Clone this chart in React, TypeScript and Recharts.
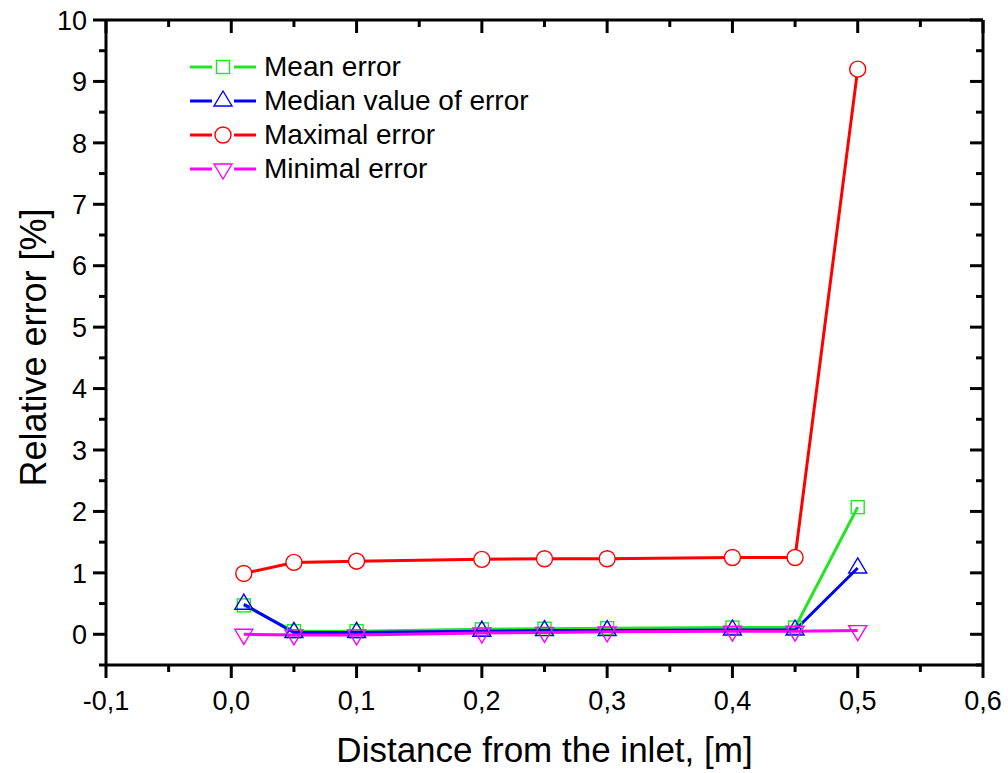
import React from 'react';
import { LineChart, Line, XAxis, YAxis, Legend, Label } from 'recharts';

const distance = [0.01, 0.05, 0.1, 0.2, 0.25, 0.3, 0.4, 0.45, 0.5];
const meanError = [0.47, 0.05, 0.05, 0.08, 0.09, 0.1, 0.11, 0.11, 2.07];
const medianError = [0.49, 0.03, 0.03, 0.05, 0.06, 0.06, 0.07, 0.07, 1.08];
const maxError = [0.99, 1.17, 1.19, 1.22, 1.23, 1.23, 1.25, 1.25, 9.2];
const minError = [0.0, -0.01, -0.01, 0.02, 0.03, 0.04, 0.05, 0.05, 0.06];

const xTicks = [-0.1, -0.05, 0, 0.05, 0.1, 0.15, 0.2, 0.25, 0.3, 0.35, 0.4, 0.45, 0.5, 0.55, 0.6];
const yTicks = [-0.5, 0, 0.5, 1, 1.5, 2, 2.5, 3, 3.5, 4, 4.5, 5, 5.5, 6, 6.5, 7, 7.5, 8, 8.5, 9, 9.5, 10];

const data = distance.map((x, i) => ({
    x,
    mean: meanError[i],
    median: medianError[i],
    max: maxError[i],
    min: minError[i],
}));

type Shape = 'square' | 'up' | 'circle' | 'down';

const series: { key: string; name: string; color: string; shape: Shape; fill: string }[] = [
    { key: 'mean', name: 'Mean error', color: '#22e622', shape: 'square', fill: 'none' },
    { key: 'median', name: 'Median value of error', color: '#0000ff', shape: 'up', fill: 'none' },
    { key: 'max', name: 'Maximal error', color: '#ff0000', shape: 'circle', fill: '#ffffff' },
    { key: 'min', name: 'Minimal error', color: '#ff00ff', shape: 'down', fill: 'none' },
];

const FONT = '"Liberation Sans", Arial, sans-serif';
const AXIS = '#000';
const MAJOR = 13;
const MINOR = 7;

const isMajorX = (v: number) => Math.abs(Math.round(v * 20)) % 2 === 0;
const isMajorY = (v: number) => Number.isInteger(v);
const fmtX = (v: number) => v.toFixed(1).replace('.', ',');

const Marker = ({ cx, cy, shape, color, fill }: { cx: number; cy: number; shape: Shape; color: string; fill: string }) => {
    const sw = 1.4;
    if (shape === 'square') {
        return <rect x={cx - 6.5} y={cy - 6.5} width={13} height={13} fill={fill} stroke={color} strokeWidth={sw} />;
    }
    if (shape === 'circle') {
        return <circle cx={cx} cy={cy} r={8} fill={fill} stroke={color} strokeWidth={sw} />;
    }
    if (shape === 'up') {
        return <path d={`M${cx},${cy - 10}L${cx + 9},${cy + 5}L${cx - 9},${cy + 5}Z`} fill={fill} stroke={color} strokeWidth={sw} />;
    }
    return <path d={`M${cx},${cy + 10}L${cx + 9},${cy - 5}L${cx - 9},${cy - 5}Z`} fill={fill} stroke={color} strokeWidth={sw} />;
};

const BottomTick = (props: any) => {
    const { x, y, payload } = props;
    const major = isMajorX(payload.value);
    return (
        <g>
            <line x1={x} x2={x} y1={y} y2={y + (major ? MAJOR : MINOR)} stroke={AXIS} strokeWidth={3} />
            {major && (
                <text x={x} y={y + 45} textAnchor="middle" fontSize={27} fontFamily={FONT} fill="#000">
                    {fmtX(payload.value)}
                </text>
            )}
        </g>
    );
};

const TopTick = (props: any) => {
    const { x, y, payload } = props;
    const major = isMajorX(payload.value);
    return <line x1={x} x2={x} y1={y} y2={y + (major ? MAJOR : MINOR)} stroke={AXIS} strokeWidth={3} />;
};

const LeftTick = (props: any) => {
    const { x, y, payload } = props;
    const major = isMajorY(payload.value);
    return (
        <g>
            <line x1={x} x2={x - (major ? MAJOR : MINOR)} y1={y} y2={y} stroke={AXIS} strokeWidth={3} />
            {major && (
                <text x={x - 19} y={y} dy="0.36em" textAnchor="end" fontSize={27} fontFamily={FONT} fill="#000">
                    {String(payload.value)}
                </text>
            )}
        </g>
    );
};

const RightTick = (props: any) => {
    const { x, y, payload } = props;
    const major = isMajorY(payload.value);
    return <line x1={x} x2={x - (major ? MAJOR : MINOR)} y1={y} y2={y} stroke={AXIS} strokeWidth={3} />;
};

const LegendBox = () => (
    <div style={{ fontFamily: FONT, fontSize: 28, color: '#000' }}>
        {series.map((s) => (
            <div key={s.key} style={{ display: 'flex', alignItems: 'center', height: 34 }}>
                <svg width={66} height={34} style={{ display: 'block' }}>
                    <line x1={0} x2={22} y1={17} y2={17} stroke={s.color} strokeWidth={3} />
                    <line x1={44} x2={66} y1={17} y2={17} stroke={s.color} strokeWidth={3} />
                    <Marker cx={33} cy={17} shape={s.shape} color={s.color} fill="none" />
                </svg>
                <span style={{ marginLeft: 8, whiteSpace: 'nowrap' }}>{s.name}</span>
            </div>
        ))}
    </div>
);

export default function App() {
    return (
        <div style={{ position: 'absolute', left: 0, top: 0, background: '#fff' }}>
            <LineChart width={1008} height={773} data={data} margin={{ top: 0, right: 0, bottom: 0, left: 0 }}>
                <XAxis
                    dataKey="x"
                    type="number"
                    domain={[-0.1, 0.6]}
                    ticks={xTicks}
                    interval={0}
                    allowDataOverflow
                    height={108}
                    tickSize={0}
                    tickMargin={0}
                    tickLine={false}
                    tick={<BottomTick />}
                    axisLine={{ stroke: AXIS, strokeWidth: 3 }}
                >
                    <Label
                        content={({ viewBox }: any) => (
                            <text
                                x={viewBox.x + viewBox.width / 2}
                                y={viewBox.y + 97}
                                textAnchor="middle"
                                fontSize={35}
                                fontFamily={FONT}
                                fill="#000"
                            >
                                Distance from the inlet, [m]
                            </text>
                        )}
                    />
                </XAxis>
                <XAxis
                    xAxisId="top"
                    orientation="top"
                    dataKey="x"
                    type="number"
                    domain={[-0.1, 0.6]}
                    ticks={xTicks}
                    interval={0}
                    allowDataOverflow
                    height={20}
                    tickSize={0}
                    tickMargin={0}
                    tickLine={false}
                    tick={<TopTick />}
                    axisLine={{ stroke: AXIS, strokeWidth: 3 }}
                />
                <YAxis
                    type="number"
                    domain={[-0.5, 10]}
                    ticks={yTicks}
                    interval={0}
                    allowDataOverflow
                    width={106}
                    tickSize={0}
                    tickMargin={0}
                    tickLine={false}
                    tick={<LeftTick />}
                    axisLine={{ stroke: AXIS, strokeWidth: 3 }}
                >
                    <Label
                        content={({ viewBox }: any) => {
                            const cx = viewBox.x + 33;
                            const cy = viewBox.y + viewBox.height / 2 + 5;
                            return (
                                <text
                                    x={cx}
                                    y={cy}
                                    dy="0.36em"
                                    transform={`rotate(-90 ${cx} ${cy})`}
                                    textAnchor="middle"
                                    fontSize={36}
                                    fontFamily={FONT}
                                    fill="#000"
                                >
                                    Relative error [%]
                                </text>
                            );
                        }}
                    />
                </YAxis>
                <YAxis
                    yAxisId="right"
                    orientation="right"
                    type="number"
                    domain={[-0.5, 10]}
                    ticks={yTicks}
                    interval={0}
                    allowDataOverflow
                    width={25}
                    tickSize={0}
                    tickMargin={0}
                    tickLine={false}
                    tick={<RightTick />}
                    axisLine={{ stroke: AXIS, strokeWidth: 3 }}
                />
                <Legend
                    layout="vertical"
                    align="center"
                    verticalAlign="middle"
                    wrapperStyle={{ left: 190, top: 50, width: 'auto', height: 'auto' }}
                    content={() => <LegendBox />}
                />
                {series.map((s) => (
                    <Line
                        key={s.key}
                        dataKey={s.key}
                        name={s.name}
                        type="linear"
                        stroke={s.color}
                        strokeWidth={3}
                        isAnimationActive={false}
                        activeDot={false}
                        dot={(p: any) => (
                            <Marker key={`${s.key}-${p.index}`} cx={p.cx} cy={p.cy} shape={s.shape} color={s.color} fill={s.fill} />
                        )}
                    />
                ))}
            </LineChart>
        </div>
    );
}
